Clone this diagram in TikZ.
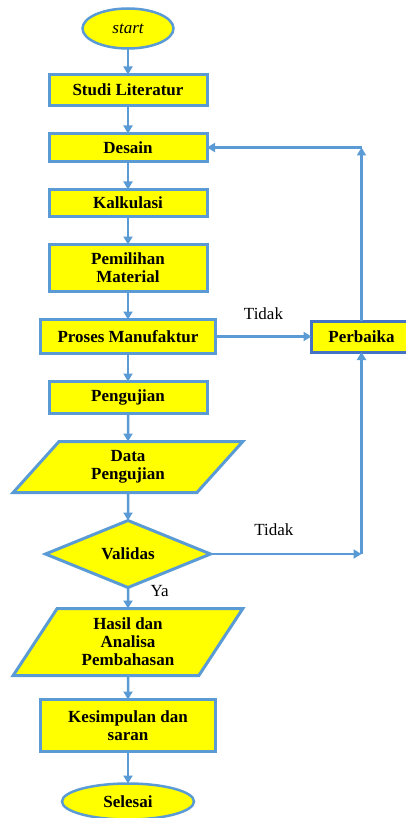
\documentclass[tikz,border=0pt]{standalone}
\usepackage{fontspec}
\setmainfont{Liberation Serif}
\usepackage{xcolor}
\usepackage{tikz}
\usetikzlibrary{shapes.geometric, arrows.meta,
                positioning}

\definecolor{lineblue}{RGB}{91,155,213}
\definecolor{darkblue}{RGB}{68,114,196}
\definecolor{boxyellow}{RGB}{255,255,0}

\begin{document}
\begin{tikzpicture}[
    node distance = 28pt,
    block/.style  = {rectangle, draw=lineblue,
                     fill=boxyellow, line width=3pt,
                     minimum width=158pt, align=center,
                     inner sep=2pt, outer sep=0pt,
                     font=\fontsize{17}{18}\selectfont\bfseries},
    terminal/.style = {ellipse, draw=lineblue,
                       fill=boxyellow, line width=2.5pt,
                       inner sep=0pt, outer sep=0pt,
                       font=\fontsize{17}{18}\selectfont\bfseries},
    io/.style = {trapezium, trapezium left angle=55,
                 trapezium right angle=125,
                 trapezium stretches=true,
                 draw=lineblue, fill=boxyellow,
                 line width=3pt, align=center,
                 minimum width=230pt,
                 inner sep=2pt, outer sep=0pt,
                 font=\fontsize{17}{18}\selectfont\bfseries},
    decision/.style = {diamond, draw=lineblue,
                       fill=boxyellow, line width=3pt,
                       minimum width=165pt, minimum height=67pt,
                       inner sep=0pt, outer sep=0pt,
                       font=\fontsize{17}{18}\selectfont\bfseries},
    lbl/.style   = {text=black, font=\fontsize{17}{18}\selectfont},
    arrow/.style = {-{Triangle[length=8pt, width=9pt]},
                    line width=2.5pt, lineblue}
]
\useasboundingbox (0pt,0pt) rectangle (405pt,-818pt);

%% Start
\node[terminal, minimum width=91pt, minimum height=40pt]
    (start) at (128pt,-28.5pt) {\mdseries\itshape start};

%% Main chain
\node[block, minimum height=31pt, below=26pt of start] (studi)
    {Studi Literatur};
\node[block, minimum height=28pt, below=of studi] (desain)
    {Desain};
\node[block, minimum height=27pt, below=of desain] (kalkulasi)
    {Kalkulasi};
\node[block, minimum height=47pt, below=of kalkulasi] (material)
    {Pemilihan\\ Material};
\node[block, minimum width=175pt, minimum height=34pt,
      below=of material] (proses)
    {Proses Manufaktur};
\node[block, minimum height=32pt, below=of proses] (uji)
    {Pengujian};

%% Data and check
\node[io, minimum height=51pt, below=of uji] (data)
    {Data\\ Pengujian};
\node[decision, below=of data] (validas)
    {Validas};

%% Results
\node[io, trapezium left angle=60, trapezium right angle=120,
      minimum height=67pt, below=21pt of validas] (hasil)
    {Hasil dan\\ Analisa\\ Pembahasan};
\node[block, minimum width=175pt, minimum height=52pt,
      below=24pt of hasil] (simpulan)
    {Kesimpulan dan\\ saran};
\node[terminal, minimum width=132pt, minimum height=36pt,
      below=32pt of simpulan] (selesai)
    {Selesai};

%% Repair loop
\node[block, draw=darkblue, minimum width=100pt,
      minimum height=31pt, right=96pt of proses] (perbaika)
    {Perbaika};
\coordinate (ctop) at (perbaika.north |- desain.east);
\coordinate (cbot) at (perbaika.south |- validas.east);

%% Arrows
\draw[arrow] (start)     -- (studi);
\draw[arrow] (studi)     -- (desain);
\draw[arrow] (desain)    -- (kalkulasi);
\draw[arrow] (kalkulasi) -- (material);
\draw[arrow] (material)  -- (proses);
\draw[arrow] (proses)    -- (uji);
\draw[arrow] (uji)       -- (data);
\draw[arrow] (data)      -- (validas);
\draw[arrow] (validas)   -- node[lbl, pos=0.15, right=18pt] {Ya}
                            (hasil);
\draw[arrow] (hasil)     -- (simpulan);
\draw[arrow] (simpulan)  -- (selesai);

\draw[arrow] (proses.east) -- node[lbl, pos=0.5, above=12pt] {Tidak}
                              (perbaika.west);
\draw[arrow] (validas.east) -- node[lbl, pos=0.42, above=14pt] {Tidak}
                               (cbot);
\draw[arrow] (cbot) -- (perbaika.south);
\draw[arrow] (perbaika.north) -- (ctop);
\draw[arrow] (ctop) -- (desain.east);
\end{tikzpicture}
\end{document}
